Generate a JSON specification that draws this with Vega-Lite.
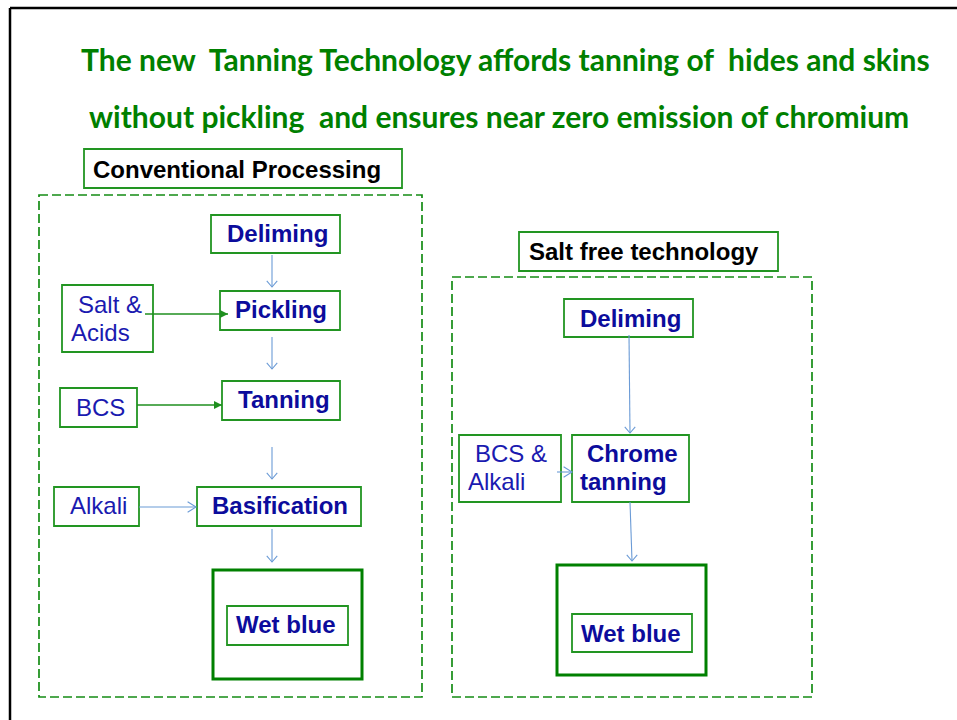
{
  "$schema": "https://vega.github.io/schema/vega-lite/v6.json",
  "width": 957,
  "height": 720,
  "padding": 0,
  "autosize": {"type": "none"},
  "background": "white",
  "config": {"view": {"stroke": null}},
  "datasets": {
    "boxes": [
      {"name": "Conventional Processing header", "type": "header", "x": 84, "y": 149, "x2": 402, "y2": 188},
      {"name": "Salt free technology header", "type": "header", "x": 519, "y": 232, "x2": 778, "y2": 271},
      {"name": "Conventional panel", "type": "panel", "x": 39, "y": 195, "x2": 422, "y2": 697},
      {"name": "Salt free panel", "type": "panel", "x": 452, "y": 277, "x2": 812, "y2": 697},
      {"name": "Deliming L", "type": "step", "x": 211, "y": 215, "x2": 340, "y2": 253},
      {"name": "Pickling", "type": "step", "x": 220, "y": 291, "x2": 340, "y2": 330},
      {"name": "Salt & Acids", "type": "step", "x": 62, "y": 285, "x2": 153, "y2": 352},
      {"name": "BCS", "type": "step", "x": 60, "y": 388, "x2": 137, "y2": 427},
      {"name": "Tanning", "type": "step", "x": 222, "y": 381, "x2": 340, "y2": 420},
      {"name": "Alkali L", "type": "step", "x": 54, "y": 487, "x2": 139, "y2": 526},
      {"name": "Basification", "type": "step", "x": 197, "y": 487, "x2": 361, "y2": 526},
      {"name": "Wet blue L", "type": "step", "x": 227, "y": 606, "x2": 348, "y2": 645},
      {"name": "Deliming R", "type": "step", "x": 564, "y": 299, "x2": 693, "y2": 337},
      {"name": "BCS & Alkali", "type": "step", "x": 459, "y": 435, "x2": 561, "y2": 502},
      {"name": "Chrome tanning", "type": "step", "x": 572, "y": 435, "x2": 689, "y2": 502},
      {"name": "Wet blue R", "type": "step", "x": 572, "y": 614, "x2": 692, "y2": 652},
      {"name": "Wet blue L outer", "type": "product", "x": 213, "y": 570, "x2": 362, "y2": 679},
      {"name": "Wet blue R outer", "type": "product", "x": 557, "y": 565, "x2": 706, "y2": 675}
    ],
    "arrows": [
      {"from": "Deliming L", "to": "Pickling", "type": "flow", "dir": "down", "x": 272, "y": 255, "x2": 272, "y2": 287},
      {"from": "Pickling", "to": "Tanning", "type": "flow", "dir": "down", "x": 272, "y": 337, "x2": 272, "y2": 369},
      {"from": "Tanning", "to": "Basification", "type": "flow", "dir": "down", "x": 272, "y": 447, "x2": 272, "y2": 479},
      {"from": "Basification", "to": "Wet blue L", "type": "flow", "dir": "down", "x": 272, "y": 529, "x2": 272, "y2": 562},
      {"from": "Alkali L", "to": "Basification", "type": "flow", "dir": "right", "x": 139, "y": 507, "x2": 196, "y2": 507},
      {"from": "Deliming R", "to": "Chrome tanning", "type": "flow", "dir": "down", "x": 629, "y": 335, "x2": 630, "y2": 433},
      {"from": "BCS & Alkali", "to": "Chrome tanning", "type": "flow", "dir": "right", "x": 557, "y": 472, "x2": 572, "y2": 472},
      {"from": "Chrome tanning", "to": "Wet blue R", "type": "flow", "dir": "down", "x": 630, "y": 502, "x2": 632, "y2": 561},
      {"from": "Salt & Acids", "to": "Pickling", "type": "feed", "dir": "right", "x": 145, "y": 314, "x2": 228, "y2": 314},
      {"from": "BCS", "to": "Tanning", "type": "feed", "dir": "right", "x": 137, "y": 405, "x2": 222, "y2": 405}
    ],
    "texts": [
      {"label": "The new\u00a0 Tanning Technology affords tanning of\u00a0 hides and skins", "type": "title", "x": 81, "y": 71},
      {"label": "without pickling\u00a0 and ensures near zero emission of chromium", "type": "title", "x": 89, "y": 128},
      {"label": "Conventional Processing", "type": "header", "x": 93, "y": 178},
      {"label": "Salt free technology", "type": "header", "x": 529, "y": 260},
      {"label": "Deliming", "type": "step", "x": 227, "y": 242},
      {"label": "Pickling", "type": "step", "x": 235, "y": 318},
      {"label": "Tanning", "type": "step", "x": 238, "y": 408},
      {"label": "Basification", "type": "step", "x": 212, "y": 514},
      {"label": "Wet blue", "type": "step", "x": 236, "y": 633},
      {"label": "Deliming", "type": "step", "x": 580, "y": 327},
      {"label": "Chrome", "type": "step", "x": 587, "y": 462},
      {"label": "tanning", "type": "step", "x": 580, "y": 490},
      {"label": "Wet blue", "type": "step", "x": 581, "y": 642},
      {"label": "Salt &", "type": "input", "x": 78, "y": 313},
      {"label": "Acids", "type": "input", "x": 71, "y": 341},
      {"label": "BCS", "type": "input", "x": 76, "y": 416},
      {"label": "Alkali", "type": "input", "x": 70, "y": 514},
      {"label": "BCS &", "type": "input", "x": 475, "y": 462},
      {"label": "Alkali", "type": "input", "x": 468, "y": 490}
    ],
    "frame": [
      {"edge": "top", "x": 10, "y": 8, "x2": 957, "y2": 8},
      {"edge": "left", "x": 10, "y": 8, "x2": 10, "y2": 720}
    ]
  },
  "encoding": {
    "x": {"field": "x", "type": "quantitative", "scale": {"domain": [0, 957], "nice": false, "zero": false}, "axis": null},
    "y": {"field": "y", "type": "quantitative", "scale": {"domain": [0, 720], "nice": false, "zero": false, "reverse": true}, "axis": null}
  },
  "layer": [
    {
      "data": {"name": "frame"},
      "mark": {"type": "rule", "stroke": "#000000", "strokeWidth": 2.5},
      "encoding": {"x2": {"field": "x2"}, "y2": {"field": "y2"}}
    },
    {
      "data": {"name": "boxes"},
      "transform": [{"filter": "datum.type === 'panel'"}],
      "mark": {"type": "rect", "filled": false, "stroke": "#148c14", "strokeWidth": 1.7, "strokeDash": [9, 4]},
      "encoding": {"x2": {"field": "x2"}, "y2": {"field": "y2"}}
    },
    {
      "data": {"name": "boxes"},
      "transform": [{"filter": "datum.type === 'header' || datum.type === 'step'"}],
      "mark": {"type": "rect", "filled": false, "stroke": "#229522", "strokeWidth": 1.8},
      "encoding": {"x2": {"field": "x2"}, "y2": {"field": "y2"}}
    },
    {
      "data": {"name": "boxes"},
      "transform": [{"filter": "datum.type === 'product'"}],
      "mark": {"type": "rect", "filled": false, "stroke": "#008000", "strokeWidth": 3},
      "encoding": {"x2": {"field": "x2"}, "y2": {"field": "y2"}}
    },
    {
      "data": {"name": "arrows"},
      "transform": [{"filter": "datum.type === 'flow'"}],
      "mark": {"type": "rule", "stroke": "#6b9bd6", "strokeWidth": 1.1},
      "encoding": {"x2": {"field": "x2"}, "y2": {"field": "y2"}}
    },
    {
      "data": {"name": "arrows"},
      "transform": [{"filter": "datum.type === 'feed'"}],
      "mark": {"type": "rule", "stroke": "#1f8f1f", "strokeWidth": 1.4},
      "encoding": {"x2": {"field": "x2"}, "y2": {"field": "y2"}}
    },
    {
      "data": {"name": "arrows"},
      "transform": [{"filter": "datum.type === 'flow' && datum.dir === 'down'"}],
      "mark": {"type": "point", "shape": "M-1,-1.15L0,0L1,-1.15", "filled": false, "stroke": "#6b9bd6", "strokeWidth": 1.1, "size": 110, "opacity": 1},
      "encoding": {"x": {"field": "x2", "type": "quantitative"}, "y": {"field": "y2", "type": "quantitative"}}
    },
    {
      "data": {"name": "arrows"},
      "transform": [{"filter": "datum.type === 'flow' && datum.dir === 'right'"}],
      "mark": {"type": "point", "shape": "M-1.6,-1L0,0L-1.6,1", "filled": false, "stroke": "#6b9bd6", "strokeWidth": 1.1, "size": 110, "opacity": 1},
      "encoding": {"x": {"field": "x2", "type": "quantitative"}, "y": {"field": "y2", "type": "quantitative"}}
    },
    {
      "data": {"name": "arrows"},
      "transform": [{"filter": "datum.type === 'feed'"}],
      "mark": {"type": "point", "shape": "M-2,-1L0,0L-2,1Z", "filled": true, "fill": "#1f8f1f", "strokeWidth": 0, "size": 64, "opacity": 1},
      "encoding": {"x": {"field": "x2", "type": "quantitative"}, "y": {"field": "y2", "type": "quantitative"}}
    },
    {
      "data": {"name": "texts"},
      "transform": [{"filter": "datum.type === 'title'"}],
      "mark": {"type": "text", "align": "left", "baseline": "alphabetic", "font": "Lato", "fontWeight": "bold", "fontSize": 30, "color": "#008000"},
      "encoding": {"text": {"field": "label"}}
    },
    {
      "data": {"name": "texts"},
      "transform": [{"filter": "datum.type === 'header'"}],
      "mark": {"type": "text", "align": "left", "baseline": "alphabetic", "font": "Liberation Sans", "fontWeight": "bold", "fontSize": 24, "color": "#000000"},
      "encoding": {"text": {"field": "label"}}
    },
    {
      "data": {"name": "texts"},
      "transform": [{"filter": "datum.type === 'step'"}],
      "mark": {"type": "text", "align": "left", "baseline": "alphabetic", "font": "Liberation Sans", "fontWeight": "bold", "fontSize": 24, "color": "#0c0c9c"},
      "encoding": {"text": {"field": "label"}}
    },
    {
      "data": {"name": "texts"},
      "transform": [{"filter": "datum.type === 'input'"}],
      "mark": {"type": "text", "align": "left", "baseline": "alphabetic", "font": "Liberation Sans", "fontWeight": "normal", "fontSize": 24, "color": "#1a1ab0"},
      "encoding": {"text": {"field": "label"}}
    }
  ]
}
